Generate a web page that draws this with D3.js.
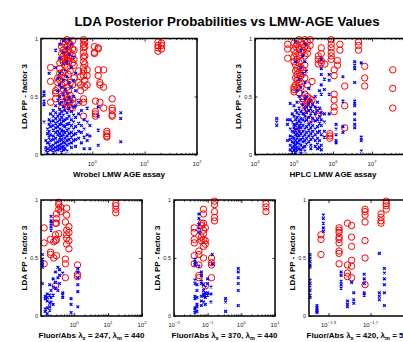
<!DOCTYPE html>
<html>
<head>
<meta charset="utf-8">
<script src="https://cdn.jsdelivr.net/npm/d3@7"></script>
<style>
body { margin: 0; background: #fff; }
svg { display: block; font-family: "Liberation Sans", Arial, sans-serif; }
</style>
</head>
<body>
<svg id="fig" width="403" height="342"></svg>
<script>
// each entry: [x value, [posterior probabilities at that x]]
const wrobelBlue = [
  [0.12,[0.54,0.51,0.46,0.43,0.28]],
  [0.13,[0.12,0.06,0.03]],
  [0.14,[0.22,0.18,0.1,0.05,0.02]],
  [0.15,[0.7,0.3,0.26,0.2,0.15,0.09]],
  [0.16,[0.35,0.28,0.24,0.17,0.12,0.07,0.04]],
  [0.18,[0.38,0.33,0.29,0.25,0.21,0.16,0.13,0.08,0.05,0.02]],
  [0.2,[0.9,0.75,0.42,0.36,0.31,0.27,0.23,0.19,0.14,0.1,0.06,0.03]],
  [0.22,[0.66,0.55,0.47,0.33,0.28,0.24,0.2,0.17,0.11,0.07,0.04]],
  [0.24,[0.95,0.83,0.7,0.6,0.5,0.44,0.39,0.35,0.3,0.26,0.22,0.18,0.15,0.12,0.08,0.05]],
  [0.26,[0.58,0.45,0.37,0.32,0.27,0.21,0.16,0.13,0.09,0.06,0.02]],
  [0.28,[0.98,0.88,0.78,0.64,0.52,0.41,0.34,0.29,0.25,0.2,0.17,0.11,0.07,0.04]],
  [0.3,[0.72,0.56,0.47,0.38,0.3,0.24,0.19,0.14,0.1,0.05]],
  [0.33,[0.92,0.8,0.67,0.53,0.44,0.36,0.31,0.26,0.21,0.16,0.12,0.08,0.03]],
  [0.36,[0.99,0.86,0.62,0.49,0.4,0.33,0.27,0.22,0.18,0.13,0.09]],
  [0.4,[0.95,0.75,0.58,0.46,0.37,0.3,0.25,0.19,0.15,0.1,0.06]],
  [0.44,[0.84,0.64,0.5,0.41,0.34,0.28,0.22,0.17,0.12]],
  [0.48,[0.7,0.55,0.42,0.32,0.24,0.18,0.13,0.07]],
  [0.55,[0.45,0.35,0.27,0.2,0.14]],
  [0.62,[0.38,0.25,0.19,0.1]],
  [0.7,[0.3,0.22,0.15,0.05]],
  [0.8,[0.4,0.28,0.17,0.12]],
  [0.9,[0.25,0.16,0.05]],
  [1.3,[0.41,0.33,0.21,0.08]],
  [3.5,[0.36,0.31,0.11]]
];
const wrobelRed = [
  [0.16,[0.75,0.63,0.45]],
  [0.2,[0.55,0.53,0.48]],
  [0.22,[0.66,0.62,0.57]],
  [0.24,[0.79,0.74,0.7,0.64]],
  [0.26,[0.93,0.87,0.82,0.68,0.6,0.5,0.45,0.4]],
  [0.28,[0.97,0.9,0.85,0.8,0.71,0.56]],
  [0.3,[0.95,0.88,0.83,0.77,0.66,0.62,0.52]],
  [0.33,[0.99,0.93,0.86,0.81,0.75,0.58,0.49,0.45]],
  [0.35,[0.97,0.9,0.84,0.8,0.69,0.55,0.47,0.42]],
  [0.38,[0.95,0.88,0.83,0.72,0.62,0.51,0.46,0.4]],
  [0.42,[0.98,0.91,0.85,0.79,0.6,0.48,0.4]],
  [0.45,[0.9,0.82,0.77,0.66]],
  [0.55,[0.72,0.62,0.45]],
  [0.6,[0.67,0.6,0.55]],
  [0.68,[0.99,0.95,0.92,0.88,0.84,0.8,0.75,0.72,0.68,0.48,0.45,0.33]],
  [0.72,[0.97,0.93,0.85,0.78,0.64,0.58]],
  [0.8,[0.73,0.68,0.6]],
  [1.1,[0.93,0.88,0.87]],
  [1.15,[0.46,0.37,0.35,0.33]],
  [1.3,[0.92,0.91,0.73,0.68]],
  [1.4,[0.62,0.6,0.45]],
  [1.65,[0.73,0.58,0.4]],
  [1.9,[0.2,0.18,0.16,0.15]],
  [2.4,[0.48,0.4,0.38,0.34,0.33]],
  [18,[0.97,0.94,0.92,0.89]],
  [21,[0.96,0.94,0.91]]
];

const hplcBlue = [
  [3.6e4,[0.31,0.28,0.25]],
  [6.8e4,[0.3,0.26,0.12]],
  [8e4,[0.44,0.3,0.22,0.16,0.13,0.08,0.04]],
  [9e4,[0.35,0.28,0.2,0.15,0.11,0.06,0.02]],
  [1.0e5,[0.42,0.33,0.26,0.23,0.19,0.14,0.1,0.07,0.04]],
  [1.1e5,[0.97,0.8,0.38,0.3,0.25,0.21,0.17,0.12,0.08,0.05,0.02]],
  [1.2e5,[0.55,0.45,0.36,0.32,0.27,0.22,0.18,0.15,0.1,0.06,0.03]],
  [1.35e5,[0.65,0.5,0.4,0.34,0.29,0.24,0.2,0.16,0.12,0.09,0.05]],
  [1.5e5,[0.9,0.75,0.58,0.47,0.37,0.31,0.27,0.23,0.18,0.13,0.08,0.04,0.01]],
  [1.7e5,[0.85,0.7,0.53,0.43,0.35,0.3,0.25,0.2,0.15,0.11,0.06]],
  [1.9e5,[0.95,0.8,0.62,0.48,0.39,0.33,0.28,0.22,0.17,0.12,0.07,0.03]],
  [2.1e5,[0.72,0.5,0.41,0.36,0.3,0.24,0.19,0.14,0.09]],
  [2.4e5,[0.57,0.44,0.38,0.32,0.26,0.21,0.16,0.11]],
  [2.7e5,[0.47,0.4,0.34,0.28,0.23,0.18,0.13,0.08,0.05]],
  [3.0e5,[0.43,0.37,0.31,0.25,0.2,0.15]],
  [3.5e5,[0.5,0.41,0.35,0.29,0.22,0.17,0.12,0.07]],
  [4.0e5,[0.45,0.38,0.3,0.24,0.19,0.14,0.09,0.05]],
  [4.5e5,[0.55,0.4,0.33,0.27,0.2,0.12,0.06]],
  [5.0e5,[0.82,0.74,0.69,0.6,0.52,0.36,0.3,0.25,0.17,0.08,0.04]],
  [6.0e5,[0.65,0.56,0.35,0.28,0.2,0.15]],
  [8.0e5,[0.69,0.64,0.52,0.35]],
  [1.2e6,[0.26,0.22,0.17,0.12,0.1]],
  [1.8e6,[0.67,0.46,0.24,0.19]],
  [3.6e6,[0.8,0.77,0.74,0.62,0.46,0.44,0.42,0.35,0.3,0.26,0.23]],
  [5.3e6,[0.79,0.15,0.12,0.03]]
];
const hplcRed = [
  [6.9e4,[0.95,0.91,0.83]],
  [1.0e5,[0.96,0.9,0.84,0.8,0.58,0.56,0.54]],
  [1.1e5,[0.93,0.87,0.77,0.72,0.66,0.6]],
  [1.2e5,[0.95,0.82,0.74,0.69,0.64,0.57,0.24,0.2]],
  [1.35e5,[0.99,0.91,0.85,0.79,0.71,0.65,0.62,0.53]],
  [1.5e5,[0.97,0.88,0.81,0.75,0.68,0.58]],
  [1.7e5,[0.95,0.9,0.73,0.7,0.48,0.45]],
  [1.9e5,[0.99,0.93,0.85,0.77,0.66,0.52,0.43,0.38]],
  [2.2e5,[0.97,0.91,0.87,0.6,0.5,0.46,0.4,0.35]],
  [2.6e5,[0.99,0.94,0.48,0.44,0.3]],
  [2.9e5,[0.63,0.47]],
  [4.2e5,[0.85,0.82,0.78,0.38,0.34]],
  [5.0e5,[0.92,0.87,0.81,0.79]],
  [6.2e5,[0.78]],
  [8.3e5,[0.18,0.16,0.14]],
  [9.0e5,[0.99,0.95,0.92,0.88,0.85,0.82]],
  [1.07e6,[0.73,0.68,0.52,0.47,0.41,0.37]],
  [1.3e6,[0.81,0.77]],
  [1.5e6,[0.95,0.9]],
  [2.0e6,[0.59,0.42,0.23]],
  [4.5e6,[0.97,0.94,0.9]],
  [6.5e6,[0.76,0.66,0.59]],
  [3.4e7,[0.73,0.57,0.4]]
];

const fl247Blue = [
  [0.115,[0.53,0.49,0.46,0.44,0.42,0.28]],
  [0.14,[0.17,0.15,0.06,0.04]],
  [0.16,[0.19,0.16,0.13,0.07,0.02]],
  [0.19,[0.27,0.18,0.11,0.08,0.05]],
  [0.208,[0.86,0.82,0.8,0.77,0.74,0.22,0.16,0.12]],
  [0.24,[0.32,0.25,0.18,0.1]],
  [0.28,[0.38,0.29,0.24]],
  [0.33,[0.42,0.33,0.22]],
  [0.37,[0.4,0.35,0.28]],
  [0.46,[0.37,0.2,0.18,0.16]],
  [0.81,[0.15,0.1,0.03]],
  [1.28,[0.41,0.38,0.33,0.27,0.21,0.08]]
];
const fl247Red = [
  [0.13,[0.76,0.63,0.45]],
  [0.2,[0.66,0.55,0.53]],
  [0.25,[0.64,0.5]],
  [0.28,[0.8,0.7,0.65,0.26]],
  [0.3,[0.88,0.84,0.8,0.66,0.52]],
  [0.35,[0.98,0.96,0.92,0.71]],
  [0.4,[0.94,0.9]],
  [0.55,[0.81,0.49,0.45,0.33]],
  [0.6,[0.93,0.87,0.74,0.7,0.67,0.62]],
  [0.7,[0.77,0.72,0.65,0.58]],
  [1.25,[0.44,0.36,0.34]],
  [16.9,[0.97,0.95,0.92,0.89]]
];

const fl370Blue = [
  [0.042,[0.49,0.46,0.44,0.31,0.28,0.17,0.15,0.07,0.05,0.03]],
  [0.048,[0.27,0.22,0.16,0.1,0.08,0.04]],
  [0.055,[0.88,0.84,0.79,0.75,0.72,0.43]],
  [0.065,[0.38,0.35,0.3,0.28,0.17,0.13,0.09]],
  [0.075,[0.27,0.22,0.19,0.17,0.12]],
  [0.085,[0.25,0.2,0.18,0.16,0.1]],
  [0.1,[0.32,0.28,0.2,0.18]],
  [0.125,[0.25,0.19,0.12]],
  [0.137,[0.53,0.45]],
  [0.34,[0.15,0.12,0.04]],
  [0.81,[0.41,0.38,0.33,0.28,0.22,0.09]]
];
const fl370Red = [
  [0.04,[0.76,0.72,0.66,0.63,0.52,0.45]],
  [0.055,[0.56,0.53,0.44,0.35,0.33]],
  [0.065,[0.8,0.78,0.68,0.65]],
  [0.075,[0.92,0.88,0.8,0.74,0.71,0.66,0.6,0.5]],
  [0.085,[0.76,0.65,0.62,0.26]],
  [0.13,[0.5,0.46,0.44,0.33]],
  [0.16,[0.99,0.96,0.9,0.85,0.82]],
  [5.4,[0.97,0.94,0.9]]
];

const fl420Blue = [
  [0.01028,[0.53,0.5,0.47,0.44,0.42,0.31,0.28,0.25,0.22,0.18,0.16]],
  [0.01109,[0.09,0.07,0.05,0.04,0.03]],
  [0.01189,[0.87,0.84,0.8,0.76,0.73]],
  [0.01445,[0.38,0.35,0.3,0.27,0.24]],
  [0.01549,[0.13,0.1,0.08]],
  [0.01622,[0.29]],
  [0.0166,[0.2,0.14,0.11]],
  [0.01862,[0.36,0.32,0.28,0.2,0.18]],
  [0.02198,[0.54,0.2,0.17,0.14]],
  [0.02323,[0.41,0.37,0.32,0.27,0.2,0.09]]
];
const fl420Red = [
  [0.01159,[0.7,0.66,0.53]],
  [0.01413,[0.76,0.74,0.72,0.68,0.66,0.63,0.56,0.54,0.45]],
  [0.01549,[0.8,0.44,0.37,0.34]],
  [0.01622,[0.78,0.68,0.6,0.48,0.43,0.33]],
  [0.01879,[0.92,0.9,0.87,0.81,0.65,0.5,0.27]],
  [0.02239,[0.88,0.85,0.82,0.8]],
  [0.02371,[0.99,0.97,0.95,0.92]]
];

const yTicks = [0, 0.5, 1];
const yTickLabels = ["0", "0.5", "1"];
const titleText = "LDA Posterior Probabilities vs LMW-AGE Values";
const yLabelText = "LDA PP - factor 3";

const svg = d3.select("#fig");

// panel layout (pixel boxes), built from the arrays above
const panels = [
  { left: 41, top: 38.5, w: 156, h: 116, dom: [0.105, 100], exps: [0, 1, 2], minor: true,
    blue: wrobelBlue, red: wrobelRed, xlab: ["Wrobel LMW AGE assay"] },
  { left: 255, top: 38.5, w: 156, h: 116, dom: [1e4, 1e8], exps: [4, 5, 6, 7, 8], minor: true,
    blue: hplcBlue, red: hplcRed, xlab: ["HPLC LMW AGE assay"] },
  { left: 41, top: 200, w: 101, h: 116, dom: [0.105, 100], exps: [0, 1, 2], minor: true,
    blue: fl247Blue, red: fl247Red, xlab: ["247", "440"] },
  { left: 174, top: 200, w: 101, h: 116, dom: [0.01, 10], exps: [-2, -1, 0, 1], minor: true,
    blue: fl370Blue, red: fl370Red, xlab: ["370", "440"] },
  { left: 309, top: 200, w: 101, h: 116, dom: [Math.pow(10, -1.993), Math.pow(10, -1.512)], exps: [-1.9, -1.7], minor: false,
    blue: fl420Blue, red: fl420Red, xlab: ["420", "520"] }
];

const flat = cols => cols.flatMap(([xv, ys]) => ys.map(yv => [xv, yv]));

function minorTicks(dom) {
  var out = [];
  var k0 = Math.floor(Math.log10(dom[0])), k1 = Math.ceil(Math.log10(dom[1]));
  for (var k = k0; k < k1; k++) {
    for (var m = 2; m < 10; m++) {
      var v = m * Math.pow(10, k);
      if (v > dom[0] && v < dom[1]) out.push(v);
    }
  }
  return out;
}

svg.append("text")
  .attr("x", 227).attr("y", 26)
  .attr("text-anchor", "middle")
  .attr("font-size", 13.3).attr("font-weight", "bold")
  .text(titleText);

panels.forEach(function(p) {
  var x = d3.scaleLog().domain(p.dom).range([p.left, p.left + p.w]);
  var y = d3.scaleLinear().domain([0, 1]).range([p.top + p.h, p.top]);
  var g = svg.append("g");
  var bottom = p.top + p.h, right = p.left + p.w;

  // red circles first, blue crosses on top
  g.selectAll("circle").data(flat(p.red)).join("circle")
    .attr("cx", d => x(d[0])).attr("cy", d => y(d[1]))
    .attr("r", 3.2)
    .attr("fill", "none").attr("stroke", "#ff0000").attr("stroke-width", 1);

  g.selectAll("path.mk").data(flat(p.blue)).join("path")
    .attr("class", "mk")
    .attr("d", function(d) {
      var cx = x(d[0]), cy = y(d[1]), s = 1.35;
      return "M" + (cx - s) + "," + (cy - s) + "L" + (cx + s) + "," + (cy + s) +
             "M" + (cx - s) + "," + (cy + s) + "L" + (cx + s) + "," + (cy - s);
    })
    .attr("stroke", "#0000ff").attr("stroke-width", 1.25).attr("fill", "none");

  var major = p.exps.map(e => Math.pow(10, e));

  // inward ticks, bottom and top, major + minor
  [[d3.axisBottom, bottom], [d3.axisTop, p.top]].forEach(function(a) {
    var ax = g.append("g").attr("transform", "translate(0," + a[1] + ")")
      .call(a[0](x).tickValues(major).tickSize(-3).tickFormat(""));
    ax.select(".domain").remove();
    if (p.minor) {
      var ax2 = g.append("g").attr("transform", "translate(0," + a[1] + ")")
        .call(a[0](x).tickValues(minorTicks(p.dom)).tickSize(-1.6).tickFormat(""));
      ax2.select(".domain").remove();
    }
  });

  // y ticks left (labelled) and right
  var ya = g.append("g").attr("transform", "translate(" + p.left + ",0)")
    .call(d3.axisLeft(y).tickValues(yTicks).tickSize(-2.5).tickPadding(3)
      .tickFormat((d, i) => yTickLabels[i]));
  ya.select(".domain").remove();
  ya.selectAll("text").attr("font-size", 5.5).attr("fill", "#222")
    .attr("font-family", "Liberation Sans, Arial, sans-serif");
  var yr = g.append("g").attr("transform", "translate(" + right + ",0)")
    .call(d3.axisRight(y).tickValues(yTicks).tickSize(-2.5).tickFormat(""));
  yr.select(".domain").remove();
  g.selectAll(".tick line").attr("stroke", "#000").attr("stroke-width", 0.8);

  // log tick labels 10^e (only those inside the window)
  p.exps.filter(e => x(Math.pow(10, e)) < 400).forEach(function(e) {
    var t = g.append("text")
      .attr("x", x(Math.pow(10, e))).attr("y", bottom + 11)
      .attr("text-anchor", "middle").attr("fill", "#222")
      .attr("font-size", 6);
    t.append("tspan").text("10");
    t.append("tspan").attr("dy", -2.6).attr("font-size", 4.2).text(String(e).replace("-", "\u2212"));
  });

  // box
  g.append("rect")
    .attr("x", p.left).attr("y", p.top).attr("width", p.w).attr("height", p.h)
    .attr("fill", "none").attr("stroke", "#000").attr("stroke-width", 1.5);

  // y label
  g.append("text")
    .attr("transform", "translate(" + (p.left - 14) + "," + (p.top + p.h / 2) + ") rotate(-90)")
    .attr("text-anchor", "middle")
    .attr("font-size", 8).attr("font-weight", "bold")
    .text(yLabelText);

  // x label
  var xl = g.append("text")
    .attr("x", p.left + p.w / 2).attr("y", bottom + 22)
    .attr("text-anchor", "middle")
    .attr("font-size", 8).attr("font-weight", "bold");
  if (p.xlab.length === 1) {
    xl.text(p.xlab[0]);
  } else {
    xl.append("tspan").text("Fluor/Abs \u03bb");
    xl.append("tspan").attr("dy", 2).attr("font-size", 5.5).text("x");
    xl.append("tspan").attr("dy", -2).text(" = " + p.xlab[0] + ", \u03bb");
    xl.append("tspan").attr("dy", 2).attr("font-size", 5.5).text("m");
    xl.append("tspan").attr("dy", -2).text(" = " + p.xlab[1]);
  }
});
</script>
</body>
</html>
